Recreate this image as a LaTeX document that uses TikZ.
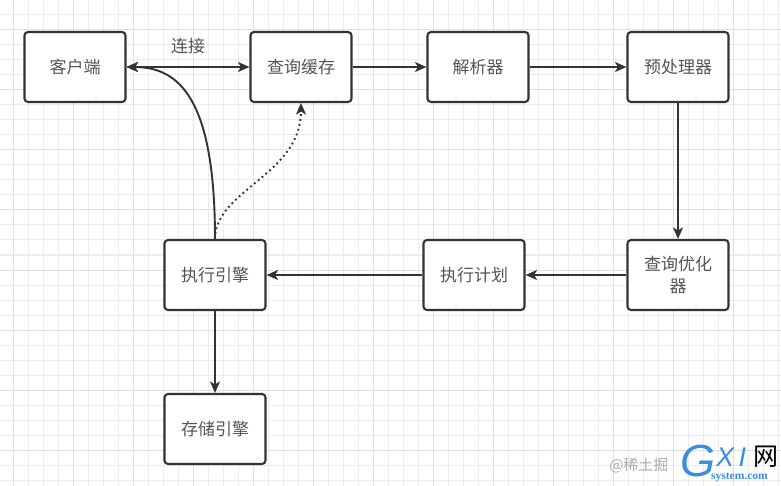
\documentclass[tikz,border=0pt]{standalone}
\usepackage{fontspec}
\setmainfont{Noto Sans CJK SC}
\newfontfamily\latinserif{Liberation Serif}
\newfontfamily\latinsans{Liberation Sans}
\usetikzlibrary{arrows.meta}
\definecolor{edgec}{HTML}{333333}
\definecolor{txtc}{HTML}{555555}
\definecolor{gridminor}{HTML}{ECECEC}
\definecolor{gridmajor}{HTML}{E0E0E0}
\definecolor{logoblue}{HTML}{3A8EE0}
\definecolor{wmgray}{HTML}{ABABAB}
\begin{document}
\begin{tikzpicture}[x=1pt,y=-1pt,
  >={Stealth[length=11.5pt,width=10pt,inset=3pt]},
  box/.style={draw=edgec, line width=2.1pt, rounded corners=3.5pt, fill=white,
    minimum width=101pt, minimum height=70pt, inner sep=2pt,
    font=\fontsize{17}{22}\selectfont, text=txtc, align=center},
  conn/.style={draw=edgec, line width=1.9pt, ->},
  dotconn/.style={draw=edgec, line width=1.9pt, ->, dash pattern=on 1.8pt off 3.2pt},
  lbl/.style={font=\fontsize{17}{20}\selectfont, text=txtc},
  gminor/.style={draw=gridminor, line width=1pt},
  gmajor/.style={draw=gridmajor, line width=1pt}]
\fill[white] (0,0) rectangle (781,486);
\useasboundingbox (0,0) rectangle (781,486);
% grid
\foreach \i in {0,...,51} {\draw[gminor] ({13.3+15*\i},0) -- ({13.3+15*\i},486);}
\foreach \j in {1,...,32} {\draw[gminor] (0,{15*\j}) -- (781,{15*\j});}
\foreach \i in {0,...,12} {\draw[gmajor] ({13.3+60*\i},0) -- ({13.3+60*\i},486);}
\foreach \j in {0,...,7} {\draw[gmajor] (0,{30+60*\j}) -- (781,{30+60*\j});}
% nodes
\node[box] (client) at (75,67) {客户端};
\node[box] (cache) at (301,67) {查询缓存};
\node[box] (parser) at (478,67) {解析器};
\node[box] (pre) at (678,67) {预处理器};
\node[box] (opt) at (678,275) {查询优化\\器};
\node[box] (plan) at (474,275) {执行计划};
\node[box] (exec) at (215,275) {执行引擎};
\node[box] (store) at (215,429) {存储引擎};
% connectors
\draw[conn, <->] (client) -- node[lbl, above=9pt] (lconn) {连接} (cache);
\draw[conn] (cache) -- (parser);
\draw[conn] (parser) -- (pre);
\draw[conn] (pre) -- (opt);
\draw[conn] (opt) -- (plan);
\draw[conn] (plan) -- (exec);
\draw[conn] (exec) -- (store);
\draw[dotconn] (exec.north) .. controls (215,190) and (301,175) .. (cache.south);
\draw[conn] (exec.north) .. controls (215,100) and (180,67) .. (client.east);
% watermark
\node[font=\fontsize{15}{17}\selectfont, text=wmgray, anchor=east] (wm1) at (672,465) {@稀土掘};
\node[font=\latinsans\itshape\fontsize{45}{45}\selectfont, text=logoblue, anchor=west, inner sep=0pt] (wmg) at (680,461) {G};
\node[font=\latinsans\itshape\fontsize{27}{27}\selectfont, text=logoblue, anchor=west, inner sep=0pt] (wmx) at (716,457) {X\,I};
\node[font=\fontsize{25}{25}\selectfont, text=black, anchor=west, inner sep=0pt] (wmw) at (753,457) {网};
\node[font=\latinserif\bfseries\fontsize{11.5}{11.5}\selectfont, text=logoblue, anchor=west, inner sep=0pt] (wms) at (711,478) {system.com};
\end{tikzpicture}
\end{document}
